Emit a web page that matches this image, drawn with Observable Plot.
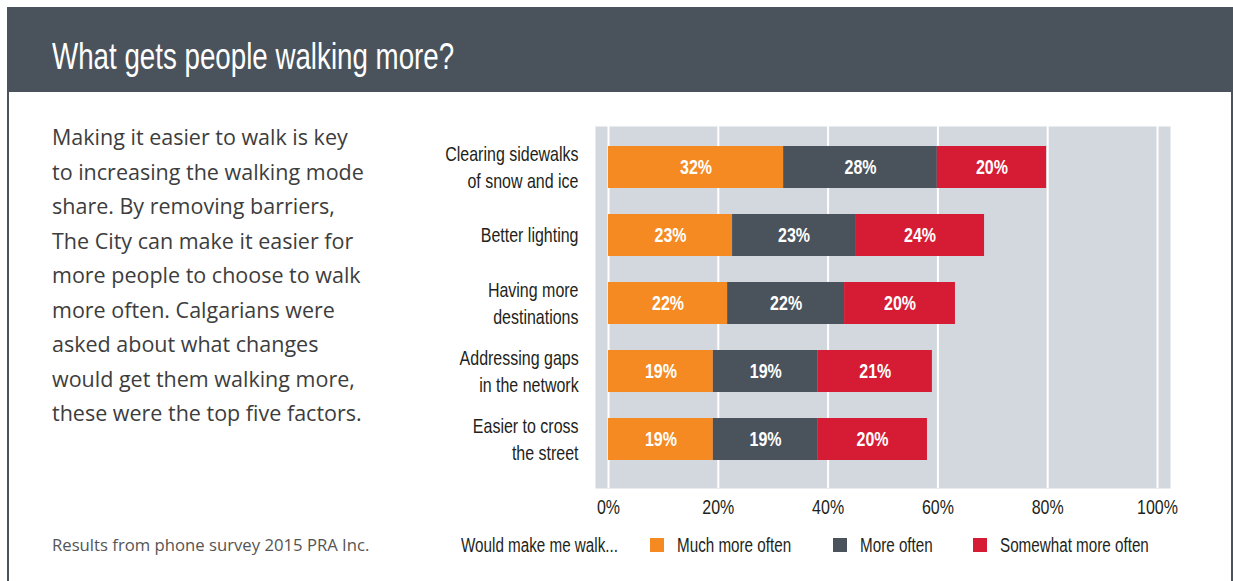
<!DOCTYPE html>
<html><head><meta charset="utf-8">
<script src="https://cdn.jsdelivr.net/npm/d3@7"></script>
<script src="https://cdn.jsdelivr.net/npm/@observablehq/plot@0.6"></script>
<style>
body{margin:0;background:#fff;width:1233px;height:581px;position:relative;overflow:hidden;}
.cond{font-family:"Liberation Sans",Arial,sans-serif;}
#frame{position:absolute;left:7px;top:7px;width:1222px;height:600px;border-left:2px solid #4a535c;border-right:2px solid #4a535c;}
#header{position:absolute;left:7px;top:7px;width:1226px;height:85px;background:#4a535c;}
#title{position:absolute;left:45px;top:32px;line-height:36px;font-size:36px;color:#fff;white-space:nowrap;transform:scaleX(0.77);transform-origin:0 0;}
#body{position:absolute;left:52px;top:120px;font-family:"Open Sans",Lato,sans-serif;font-size:21.5px;line-height:34.5px;color:#3d3d3d;white-space:nowrap;}
#caption{position:absolute;left:52px;top:535px;font-family:"Open Sans",Lato,sans-serif;font-size:16.7px;line-height:20px;color:#555;white-space:nowrap;}
#chart{position:absolute;left:420px;top:100px;}
#legend{position:absolute;left:0;top:535px;height:20px;width:1233px;}
.lg{position:absolute;top:0;line-height:20px;font-size:19.5px;color:#231f20;white-space:nowrap;transform:scaleX(0.78);transform-origin:0 0;}
.sw{position:absolute;top:3px;width:14px;height:14px;}
</style></head>
<body>
<div id="frame"></div>
<div id="header"><div id="title" class="cond"></div></div>
<div id="body"></div>
<div id="caption"></div>
<div id="chart"></div>
<div id="legend" class="cond"></div>
<script>
const titleText = "What gets people walking more?";
const bodyLines = ["Making it easier to walk is key","to increasing the walking mode","share. By removing barriers,","The City can make it easier for","more people to choose to walk","more often. Calgarians were","asked about what changes","would get them walking more,","these were the top five factors."];
const captionText = "Results from phone survey 2015 PRA Inc.";
const legendTitle = "Would make me walk...";

const categories = ["Clearing sidewalks\nof snow and ice","Better lighting","Having more\ndestinations","Addressing gaps\nin the network","Easier to cross\nthe street"];
const series = ["Much more often","More often","Somewhat more often"];
const colors = ["#f58a22","#4a535c","#d61c34"];
const muchMore = [31.9,22.6,21.7,19.1,19.1];
const more = [28.0,22.4,21.3,19.1,19.0];
const somewhat = [19.9,23.5,20.2,20.8,20.0];
const labelMuch = [32,23,22,19,19];
const labelMore = [28,23,22,19,19];
const labelSome = [20,24,20,21,20];
const xTicks = [0,20,40,60,80,100];

document.getElementById("title").textContent = titleText;
document.getElementById("body").innerHTML = bodyLines.join("<br>");
document.getElementById("caption").textContent = captionText;

const data = categories.flatMap((c,i)=>[
  {cat:c, series:series[0], value:muchMore[i], label:labelMuch[i]},
  {cat:c, series:series[1], value:more[i], label:labelMore[i]},
  {cat:c, series:series[2], value:somewhat[i], label:labelSome[i]}
]);

const fontFam = '"Liberation Sans",Arial,sans-serif';
const chart = Plot.plot({
  width: 780, height: 420,
  marginLeft: 175, marginRight: 30, marginTop: 26, marginBottom: 32,
  x: {domain:[0,100], range:[188,737]},
  y: {domain: categories, range:[24.5, 381.7], paddingInner:0.385, paddingOuter:0.3},
  color: {domain: series, range: colors},
  style: {fontFamily: fontFam, fontSize: "20px", color: "#231f20", background: "transparent", overflow: "visible"},
  marks: [
    Plot.frame({fill:"#d3d7de", stroke:"none"}),
    Plot.gridX(xTicks, {stroke:"#fff", strokeOpacity:1, strokeWidth:2}),
    Plot.barX(data, Plot.stackX({x:"value", y:"cat", fill:"series", order: series})),
    Plot.text(data, Plot.stackX({x:"value", y:"cat", z:"series", order: series, text: d=>d.label+"%", fill:"#fff", fontWeight:"bold", fontSize:19.5, className:"barlab"})),
    Plot.axisX({ticks: xTicks, tickFormat: d=>d+"%", tickSize:0, tickPadding:11, fontSize:20.5, label:null}),
    Plot.axisY({tickSize:0, tickPadding:17, fontSize:20.5, lineHeight:1.33, dy:-2, label:null})
  ]
});
document.getElementById("chart").appendChild(chart);

// condense SVG text horizontally around each label's anchor
chart.querySelectorAll("text").forEach(t => {
  const s = t.closest(".barlab") ? 0.82 : 0.78;
  const bb = t.getBBox();
  const anchor = getComputedStyle(t).textAnchor;
  const ax = anchor === "end" ? bb.x + bb.width : anchor === "middle" ? bb.x + bb.width/2 : bb.x;
  const tr = t.getAttribute("transform") || "";
  t.setAttribute("transform", `${tr} translate(${ax},0) scale(${s},1) translate(${-ax},0)`);
});

const lg = document.getElementById("legend");
const items = [
  {t:legendTitle, x:461},
  {sw:colors[0], x:650}, {t:series[0], x:677},
  {sw:colors[1], x:833}, {t:series[1], x:860},
  {sw:colors[2], x:973}, {t:series[2], x:1000}
];
for (const it of items) {
  const d = document.createElement("div");
  if (it.sw) { d.className="sw"; d.style.background=it.sw; }
  else { d.className="lg"; d.textContent=it.t; }
  d.style.left = it.x+"px";
  lg.appendChild(d);
}
</script>
</body></html>
